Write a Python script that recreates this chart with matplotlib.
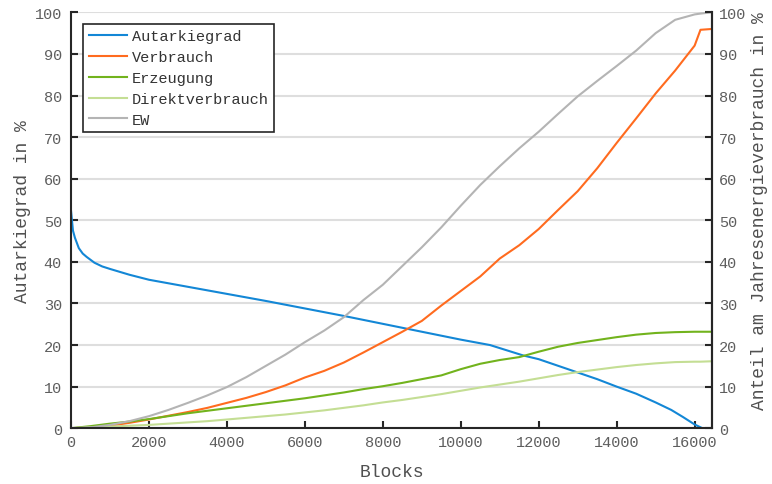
import matplotlib
matplotlib.use('Agg')
import matplotlib.pyplot as plt

plt.rcParams['font.family'] = ['Liberation Mono', 'DejaVu Sans Mono']

# Autarkiegrad (own x grid, dense at the start)
blocks_aut = [0, 50, 100, 200, 300, 400, 600, 800, 1000, 1500, 2000, 3000, 4000, 5000,
              6000, 7000, 8000, 9000, 10000, 10750, 11600, 12000, 12500, 13000, 13500,
              14000, 14500, 15000, 15400, 15700, 16000, 16200]
autarkiegrad = [52.3, 47.5, 45.8, 43.3, 42.0, 41.2, 39.8, 38.9, 38.3, 36.9, 35.7, 34.0,
                32.3, 30.6, 28.8, 27.0, 25.1, 23.2, 21.3, 20.0, 17.5, 16.6, 15.0, 13.4,
                11.8, 10.0, 8.3, 6.2, 4.4, 2.7, 0.9, 0.0]

# shared x grid for the other series
blocks = [0, 500, 1000, 1500, 2000, 2500, 3000, 3500, 4000, 4500, 5000, 5500, 6000, 6500,
          7000, 7500, 8000, 8500, 9000, 9500, 10000, 10500, 11000, 11500, 12000, 12500,
          13000, 13500, 14000, 14500, 15000, 15500, 16000, 16150, 16440]
verbrauch = [0, 0.2, 0.6, 1.3, 2.1, 3.0, 3.9, 4.9, 6.1, 7.3, 8.7, 10.3, 12.2, 13.8, 15.8,
             18.2, 20.7, 23.2, 25.8, 29.5, 33.0, 36.5, 40.8, 44.0, 47.9, 52.5, 57.0, 62.5,
             68.6, 74.5, 80.5, 86.0, 92.0, 95.8, 96.0]
erzeugung = [0, 0.5, 1.1, 1.6, 2.2, 2.9, 3.6, 4.2, 4.8, 5.4, 6.0, 6.6, 7.2, 7.9, 8.6, 9.4,
             10.1, 10.9, 11.8, 12.7, 14.2, 15.5, 16.4, 17.1, 18.4, 19.6, 20.5, 21.2, 21.9,
             22.5, 22.9, 23.1, 23.2, 23.2, 23.2]
direktverbrauch = [0, 0.2, 0.4, 0.6, 0.8, 1.1, 1.4, 1.7, 2.1, 2.5, 2.9, 3.3, 3.8, 4.3, 4.9,
                   5.5, 6.2, 6.8, 7.5, 8.2, 9.0, 9.8, 10.5, 11.2, 12.0, 12.8, 13.5, 14.1,
                   14.7, 15.2, 15.6, 15.9, 16.0, 16.0, 16.1]
ew = [0, 0.2, 0.8, 1.7, 2.9, 4.4, 6.1, 7.9, 9.9, 12.3, 15.0, 17.7, 20.7, 23.5, 26.7, 30.8,
      34.5, 39.0, 43.5, 48.3, 53.5, 58.5, 63.0, 67.3, 71.3, 75.6, 79.8, 83.5, 87.1, 90.8,
      95.0, 98.2, 99.5, 99.7, 100.0]

xticks = list(range(0, 16001, 2000))
yticks = list(range(0, 101, 10))

tick_col = '#5e5e5e'
label_col = '#505050'
spine_col = '#262626'

fig = plt.figure(figsize=(7.72, 4.85), dpi=100)
ax = fig.add_axes([0.092, 0.115, 0.830, 0.8575])

ax.plot(blocks_aut, autarkiegrad, color='#1387d6', lw=1.5, label='Autarkiegrad')
ax.plot(blocks, verbrauch, color='#ff6b1f', lw=1.5, label='Verbrauch')
ax.plot(blocks, erzeugung, color='#72b31d', lw=1.5, label='Erzeugung')
ax.plot(blocks, direktverbrauch, color='#c4de94', lw=1.5, label='Direktverbrauch')
ax.plot(blocks, ew, color='#b4b4b4', lw=1.5, label='EW')

ax.set_xlim(0, 16440)
ax.set_ylim(0, 100)
ax.set_xticks(xticks)
ax.set_yticks(yticks)
ax.yaxis.grid(True, color='#dedede', lw=1.5)
ax.set_axisbelow(True)

for s in ['left', 'bottom', 'right']:
    ax.spines[s].set_color(spine_col)
    ax.spines[s].set_linewidth(1.5)
ax.spines['top'].set_visible(False)
ax.tick_params(direction='in', length=5, width=1.5, color=spine_col,
               labelcolor=tick_col, labelsize=11)
ax.tick_params(axis='y', pad=6.5)
ax.tick_params(axis='x', pad=5)

ax.set_xlabel('Blocks', fontsize=13, color=label_col)
ax.set_ylabel('Autarkiegrad in %', fontsize=13, color=label_col)
ax.xaxis.set_label_coords(0.5, -0.083)
ax.yaxis.set_label_coords(-0.063, 0.524)

ax2 = ax.twinx()
ax2.set_ylim(0, 100)
ax2.set_yticks(yticks)
for s in ['left', 'bottom', 'top']:
    ax2.spines[s].set_visible(False)
ax2.spines['right'].set_color(spine_col)
ax2.spines['right'].set_linewidth(1.5)
ax2.tick_params(direction='in', length=5, width=1.5, color=spine_col,
                labelcolor=tick_col, labelsize=11, pad=5)
ax2.set_ylabel('Anteil am Jahresenergieverbrauch in %', fontsize=13, color=label_col)
ax2.yaxis.set_label_coords(1.061, 0.524)

leg = ax.legend(loc='upper left', bbox_to_anchor=(0.019, 0.972), borderaxespad=0,
                fontsize=11, handlelength=2.5, handletextpad=0.35, labelspacing=0.45,
                borderpad=0.35, fancybox=False, framealpha=1)
leg.get_frame().set_edgecolor(spine_col)
leg.get_frame().set_linewidth(1.2)
for t in leg.get_texts():
    t.set_color('#333333')

fig.savefig('out.png', dpi=100)
plt.close(fig)
